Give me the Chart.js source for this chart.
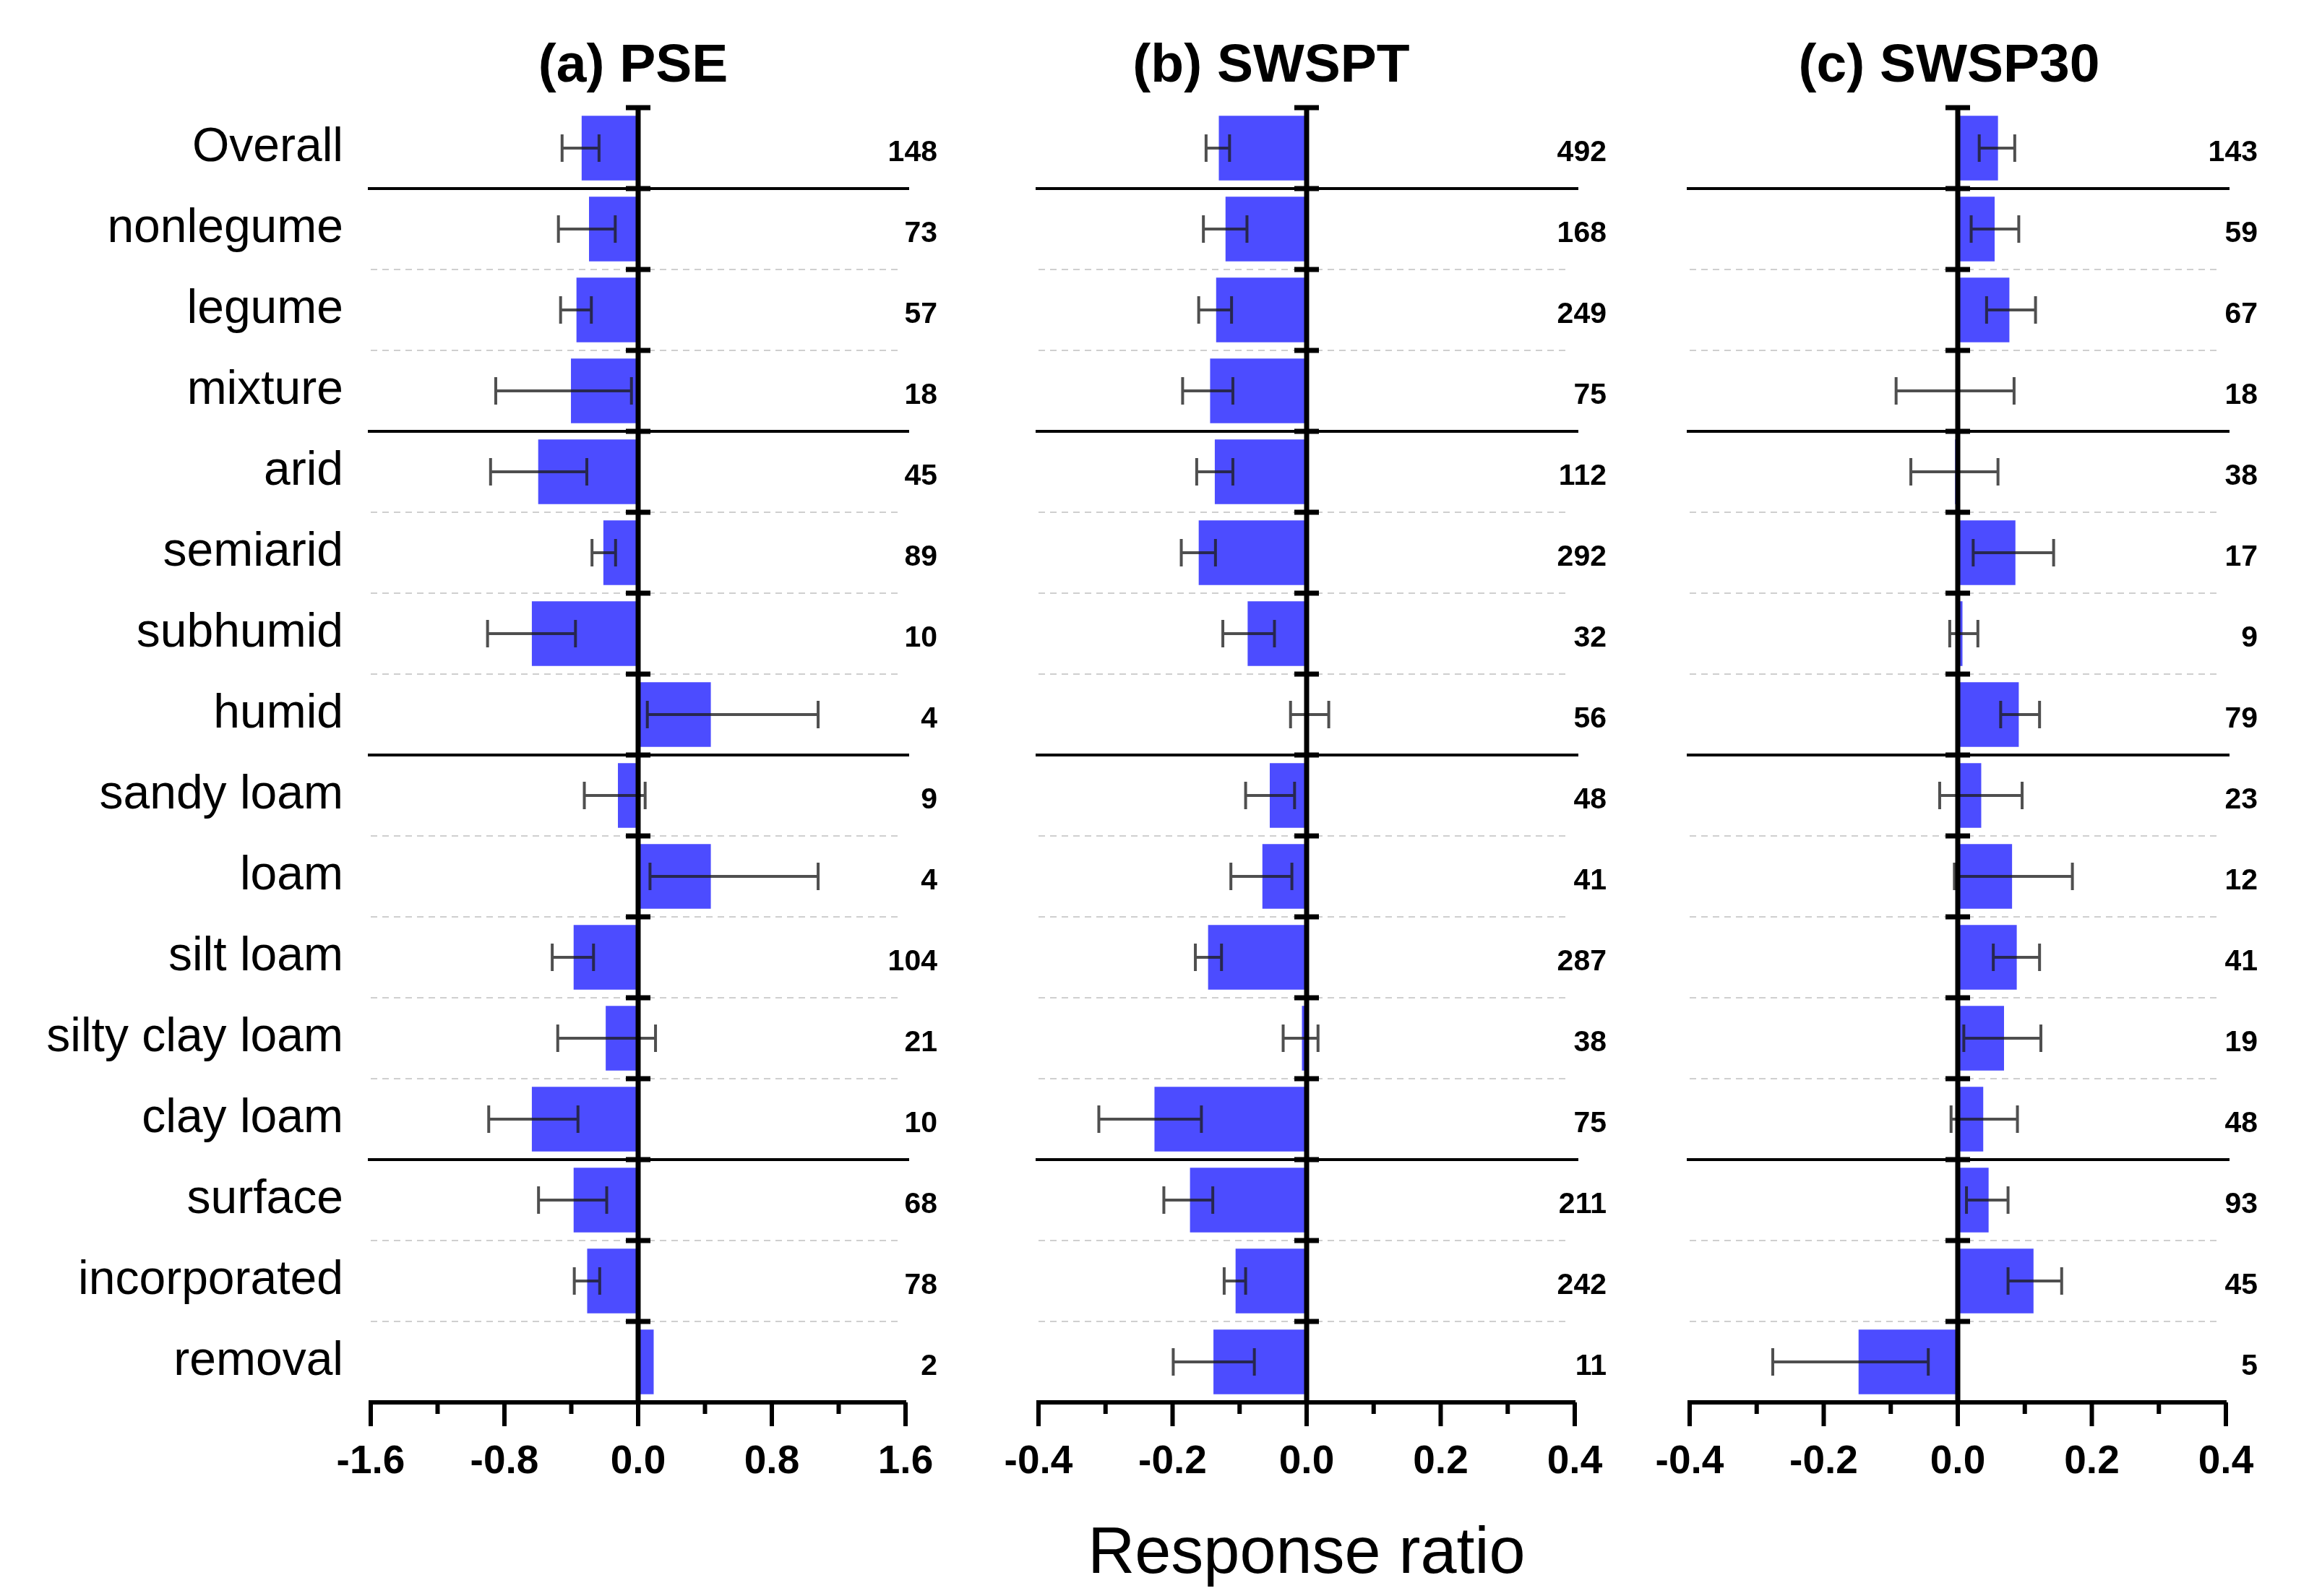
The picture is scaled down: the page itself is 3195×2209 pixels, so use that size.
<!DOCTYPE html>
<html>
<head>
<meta charset="utf-8">
<title>Response ratio</title>
<script src="https://cdn.jsdelivr.net/npm/chart.js"></script>
<style>
  html, body { margin:0; padding:0; background:#fff; }
  #wrap { position:relative; width:3195px; height:2209px; overflow:hidden; font-family:"Liberation Sans", Arial, sans-serif; color:#000; }
  canvas { position:absolute; top:0; }
  .ttl { position:absolute; top:87px; transform:translate(-50%,-50%); font-weight:bold; font-size:75px; white-space:nowrap; line-height:1; }
  #xlab { position:absolute; left:1808px; top:2146px; transform:translate(-50%,-50%); font-size:90px; white-space:nowrap; line-height:1; }
</style>
</head>
<body>
<div id="wrap">
  <canvas id="cA" width="1320" height="2209" style="left:0"></canvas>
  <canvas id="cB" width="920" height="2209" style="left:1320px"></canvas>
  <canvas id="cC" width="955" height="2209" style="left:2240px"></canvas>
  <div class="ttl" style="left:876px">(a) PSE</div>
  <div class="ttl" style="left:1759px">(b) SWSPT</div>
  <div class="ttl" style="left:2697px">(c) SWSP30</div>
  <div id="xlab">Response ratio</div>
</div>
<script>
// categories (top to bottom)
var categories = ['Overall', 'nonlegume', 'legume', 'mixture', 'arid', 'semiarid', 'subhumid', 'humid',
  'sandy loam', 'loam', 'silt loam', 'silty clay loam', 'clay loam', 'surface', 'incorporated', 'removal'];
// first category of each new group -> solid line above it
var groupStarts = [1, 4, 8, 13];

// (a) PSE
var pseMean = [-0.338, -0.294, -0.369, -0.402, -0.598, -0.208, -0.636, 0.435, -0.121, 0.435, -0.386, -0.194, -0.636, -0.386, -0.305, 0.093];
var pseLow  = [-0.455, -0.477, -0.464, -0.852, -0.883, -0.276, -0.901, 0.055, -0.322, 0.071, -0.514, -0.481, -0.894, -0.596, -0.382, null];
var pseHigh = [-0.234, -0.137, -0.280, -0.040, -0.307, -0.135, -0.375, 1.077, 0.042, 1.077, -0.267, 0.104, -0.360, -0.188, -0.230, null];
var pseN    = [148, 73, 57, 18, 45, 89, 10, 4, 9, 4, 104, 21, 10, 68, 78, 2];

// (b) SWSPT
var swsptMean = [-0.131, -0.121, -0.135, -0.144, -0.137, -0.161, -0.088, 0.002, -0.055, -0.066, -0.147, -0.007, -0.227, -0.174, -0.106, -0.139];
var swsptLow  = [-0.150, -0.154, -0.161, -0.185, -0.164, -0.187, -0.125, -0.024, -0.091, -0.113, -0.166, -0.035, -0.310, -0.213, -0.123, -0.199];
var swsptHigh = [-0.115, -0.089, -0.112, -0.110, -0.110, -0.136, -0.048, 0.033, -0.018, -0.022, -0.127, 0.017, -0.157, -0.140, -0.091, -0.078];
var swsptN    = [492, 168, 249, 75, 112, 292, 32, 56, 48, 41, 287, 38, 75, 211, 242, 11];

// (c) SWSP30
var swsp30Mean = [0.060, 0.055, 0.077, 0.003, -0.004, 0.086, 0.007, 0.091, 0.035, 0.081, 0.088, 0.069, 0.038, 0.046, 0.113, -0.148];
var swsp30Low  = [0.032, 0.020, 0.043, -0.092, -0.070, 0.023, -0.012, 0.064, -0.027, -0.005, 0.053, 0.009, -0.010, 0.013, 0.075, -0.276];
var swsp30High = [0.085, 0.091, 0.116, 0.084, 0.060, 0.143, 0.030, 0.122, 0.096, 0.171, 0.122, 0.124, 0.089, 0.075, 0.155, -0.044];
var swsp30N    = [143, 59, 67, 18, 38, 17, 9, 79, 23, 12, 41, 19, 48, 93, 45, 5];

// x tick labels
var pseTicks = ['-1.6', '-0.8', '0.0', '0.8', '1.6'];
var swTicks  = ['-0.4', '-0.2', '0.0', '0.2', '0.4'];

Chart.defaults.font.family = '"Liberation Sans", Arial, sans-serif';
Chart.defaults.color = '#000';

// 구분선, 오차막대, 축 눈금, n 표시
var forest = {
  id: 'forest',
  beforeDatasetsDraw: function (chart) {
    var ctx = chart.ctx, a = chart.chartArea, y = chart.scales.y;
    var step = y.getPixelForValue(1) - y.getPixelForValue(0);
    ctx.save();
    for (var i = 1; i < categories.length; i++) {
      var py = Math.round(y.getPixelForValue(i) - step / 2);
      ctx.beginPath();
      if (groupStarts.indexOf(i) >= 0) {
        ctx.setLineDash([]);
        ctx.strokeStyle = '#000';
        ctx.lineWidth = 4;
        ctx.moveTo(a.left - 4, py);
        ctx.lineTo(a.right + 5, py);
      } else {
        ctx.setLineDash([9, 7]);
        ctx.strokeStyle = '#cfcfcf';
        ctx.lineWidth = 2;
        ctx.moveTo(a.left, py);
        ctx.lineTo(a.right - 6, py);
      }
      ctx.stroke();
    }
    ctx.restore();
  },
  afterDatasetsDraw: function (chart, args, o) {
    var ctx = chart.ctx, a = chart.chartArea, x = chart.scales.x, y = chart.scales.y;
    var step = y.getPixelForValue(1) - y.getPixelForValue(0);
    var x0 = x.getPixelForValue(0);
    ctx.save();

    // error bars
    ctx.strokeStyle = 'rgba(30,30,30,0.78)';
    ctx.lineWidth = 4;
    for (var i = 0; i < categories.length; i++) {
      if (o.low[i] == null) continue;
      var py = y.getPixelForValue(i);
      var lx = x.getPixelForValue(o.low[i]), hx = x.getPixelForValue(o.high[i]);
      ctx.beginPath();
      ctx.moveTo(lx, py); ctx.lineTo(hx, py);
      ctx.moveTo(lx, py - 19); ctx.lineTo(lx, py + 19);
      ctx.moveTo(hx, py - 19); ctx.lineTo(hx, py + 19);
      ctx.stroke();
    }

    // zero line with cross ticks
    ctx.fillStyle = '#000';
    ctx.fillRect(x0 - 3.5, a.top, 7, a.bottom - a.top);
    for (var k = 0; k < categories.length; k++) {
      var by = y.getPixelForValue(k) - step / 2;
      ctx.fillRect(x0 - 17, by - 3.5, 34, 7);
    }

    // x ticks (major / minor)
    x.ticks.forEach(function (t) {
      var px = x.getPixelForValue(t.value);
      var len = t.label ? 33 : 16;
      ctx.fillRect(px - 3, a.bottom, 6, len);
    });

    // n
    ctx.font = 'bold 41px "Liberation Sans", Arial, sans-serif';
    ctx.textAlign = 'right';
    ctx.textBaseline = 'middle';
    for (var j = 0; j < categories.length; j++) {
      ctx.fillText(String(o.n[j]), a.right + 44, y.getPixelForValue(j) + 7);
    }
    ctx.restore();
  }
};

function makePanel(id, mean, low, high, n, lim, stepSize, tickLabels, left, right, canvasW, showLabels) {
  var top = 149, bottom = 1941, H = 2209;
  var chart = new Chart(document.getElementById(id), {
    type: 'bar',
    data: {
      labels: categories,
      datasets: [{
        data: mean,
        backgroundColor: '#4c4cff',
        borderWidth: 0,
        categoryPercentage: 0.8,
        barPercentage: 1.0
      }]
    },
    options: {
      indexAxis: 'y',
      responsive: false,
      animation: false,
      devicePixelRatio: 1,
      layout: { padding: { top: top, bottom: 0, left: showLabels ? 0 : left, right: canvasW - right } },
      plugins: {
        legend: { display: false },
        tooltip: { enabled: false },
        forest: { low: low, high: high, n: n }
      },
      scales: {
        x: {
          type: 'linear',
          min: -lim, max: lim,
          // invisible tick marks only push the labels down
          grid: { display: true, drawOnChartArea: false, drawTicks: true, tickLength: 50, tickColor: 'rgba(0,0,0,0)' },
          border: { display: true, color: '#000', width: 6 },
          ticks: {
            stepSize: stepSize,
            autoSkip: false,
            maxRotation: 0,
            padding: 0,
            font: { size: 55, weight: 'bold' },
            callback: function (v) {
              for (var i = 0; i < tickLabels.length; i++) {
                if (Math.abs(parseFloat(tickLabels[i]) - v) < 1e-6) return tickLabels[i];
              }
              return '';
            }
          },
          afterFit: function (s) { s.height = H - bottom; }
        },
        y: {
          type: 'category',
          display: showLabels,
          offset: true,
          grid: { display: false, drawTicks: false, tickLength: 0 },
          border: { display: false },
          ticks: { autoSkip: false, padding: 38, font: { size: 66 } },
          afterFit: function (s) { s.width = left; }
        }
      }
    },
    plugins: [forest]
  });

  // nudge padding until the plot area sits where it should
  for (var k = 0; k < 4; k++) {
    var a = chart.chartArea;
    var dl = left - a.left, dr = a.right - right;
    if (Math.abs(dl) < 0.5 && Math.abs(dr) < 0.5) break;
    var p = chart.options.layout.padding;
    if (!showLabels) p.left = Math.max(0, p.left + dl);
    p.right = Math.max(0, p.right + dr);
    chart.update();
  }
  return chart;
}

makePanel('cA', pseMean, pseLow, pseHigh, pseN, 1.6, 0.4, pseTicks, 513, 1253, 1320, true);
makePanel('cB', swsptMean, swsptLow, swsptHigh, swsptN, 0.4, 0.1, swTicks, 117, 859, 920, false);
makePanel('cC', swsp30Mean, swsp30Low, swsp30High, swsp30N, 0.4, 0.1, swTicks, 98, 840, 955, false);
</script>
</body>
</html>
